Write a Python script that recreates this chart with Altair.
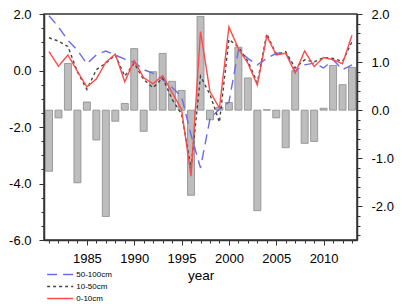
import altair as alt
import pandas as pd

years = list(range(1981, 2014))

bars = [-1.27, -0.16, 0.97, -1.51, 0.17, -0.62, -2.21, -0.23, 0.14, 1.28,
        -0.44, 0.80, 1.18, 0.60, 0.41, -1.77, 1.95, -0.20, 0.06, 0.16,
        1.31, 0.67, -2.09, 0.01, -0.16, -0.78, 0.82, -0.69, -0.65, 0.04,
        0.93, 0.53, 0.89]

deep = [1.94, 1.54, 1.07, 0.72, 0.24, 0.55, 0.69, 0.55, 0.40, 0.29,
        0.03, -0.10, -0.32, -0.60, -0.92, -2.28, -3.45, -1.71, -1.36, -1.13,
        0.72, 0.43, 0.20, 0.43, 0.61, 0.63, -0.03, 0.20, 0.26, 0.09,
        0.38, 0.03, 0.20]

mid = [1.16, 1.04, 0.85, -0.05, -0.67, 0.03, 0.26, 0.55, -0.20, 0.26,
       -0.32, -0.61, -0.26, -1.02, -1.54, -3.45, -0.20, -0.85, -1.83, 1.10,
       0.84, 0.32, -0.43, 1.30, 0.57, 0.67, 0.09, 0.38, 0.30, 0.46,
       0.43, 0.32, 1.02]

top = [0.67, 0.15, 0.55, -0.03, -0.58, -0.30, 0.29, 0.58, -0.40, 0.35,
       -0.26, -0.47, -0.18, -0.78, -1.38, -3.74, 1.38, -0.75, -1.33, 1.54,
       0.78, 0.26, -0.52, 1.22, 0.55, 0.61, -0.09, 0.69, 0.14, 0.46,
       0.38, 0.24, 1.25]

series_names = ["50-100cm", "10-50cm", "0-10cm"]
series_colors = ["#6b6bf2", "#444444", "#ff4a4a"]
series_dash = [[10, 6], [3, 3], [1, 0]]

bar_df = pd.DataFrame({"year": years, "value": bars})
rows = []
for name, vals in zip(series_names, [deep, mid, top]):
    for y, v in zip(years, vals):
        rows.append({"year": y, "series": name, "value": v})
line_df = pd.DataFrame(rows)

left_vals = [round(-6 + 0.5 * i, 2) for i in range(17)]
right_vals = [round(-2.6 + 0.2 * i, 2) for i in range(24)]

xscale = alt.Scale(domain=[1981, 2013], nice=False, zero=False)


def make_xaxis():
    return alt.Axis(
        title="year", values=years, format="d",
        labelExpr="datum.value % 5 == 0 ? datum.label : ''",
        tickSize={"condition": {"test": "datum.value % 5 == 0", "value": 5}, "value": 3},
        labelOverlap=False, labelFlush=False, labelPadding=7,
        titlePadding=3, grid=False,
    )


def fmt(test):
    return f"{test} ? replace(format(datum.value, '.1f'), '\u2212', '-') : ''"


bar_layer = alt.Chart(bar_df).mark_bar(
    size=7, fill="#bdbdbd", stroke="#8a8a8a", strokeWidth=0.8, clip=True
).encode(
    x=alt.X("year:Q", scale=xscale, axis=make_xaxis()),
    y=alt.Y("value:Q", scale=alt.Scale(domain=[-2.7, 2.0], nice=False, zero=False),
            axis=alt.Axis(
                orient="right", title=None, values=right_vals, grid=False,
                labelExpr=fmt("abs(datum.value - round(datum.value)) < 0.001"),
                tickSize={"condition": {"test": "abs(datum.value - round(datum.value)) < 0.001", "value": 5}, "value": 3},
                labelOverlap=False, labelFlush=False, labelPadding=9,
            )),
)

legend = alt.Legend(title=None, orient="none", legendX=10.7, legendY=255,
                    symbolType="M-3,0H3", symbolSize=76,
                    symbolStrokeWidth=1.4, labelFontSize=8,
                    labelOffset=10.6, rowPadding=2, padding=0,
                    direction="vertical")

line_layer = alt.Chart(line_df).mark_line(strokeWidth=1.4, clip=True).encode(
    x=alt.X("year:Q", scale=xscale, axis=make_xaxis()),
    y=alt.Y("value:Q", scale=alt.Scale(domain=[-6, 2], nice=False, zero=False),
            axis=alt.Axis(
                orient="left", title=None, values=left_vals, grid=False,
                labelExpr=fmt("abs(datum.value % 2) < 0.001"),
                tickSize={"condition": {"test": "abs(datum.value % 2) < 0.001", "value": 5}, "value": 3},
                labelOverlap=False, labelFlush=False, labelPadding=8,
            )),
    color=alt.Color("series:N", scale=alt.Scale(domain=series_names, range=series_colors),
                    legend=legend),
    strokeDash=alt.StrokeDash("series:N", scale=alt.Scale(domain=series_names, range=series_dash),
                              legend=legend),
    detail="series:N",
)

chart = alt.layer(bar_layer, line_layer).resolve_scale(
    y="independent"
).properties(
    width=313, height=226,
    autosize=alt.AutoSizeParams(type="none"),
    padding={"left": 36, "top": 6, "right": 37, "bottom": 62},
).configure(
    font="Liberation Sans",
).configure_axis(
    labelFontSize=13, titleFontSize=13.5, titleFontWeight="normal",
    labelColor="#000000", titleColor="#000000",
    domainColor="#333333", domainWidth=1.5, tickColor="#333333", tickWidth=1,
).configure_view(
    stroke="#333333", strokeWidth=1.5,
).configure_legend(
    labelColor="#000000",
)

chart.save("out.html", embed_options={"renderer": "svg", "actions": False})
